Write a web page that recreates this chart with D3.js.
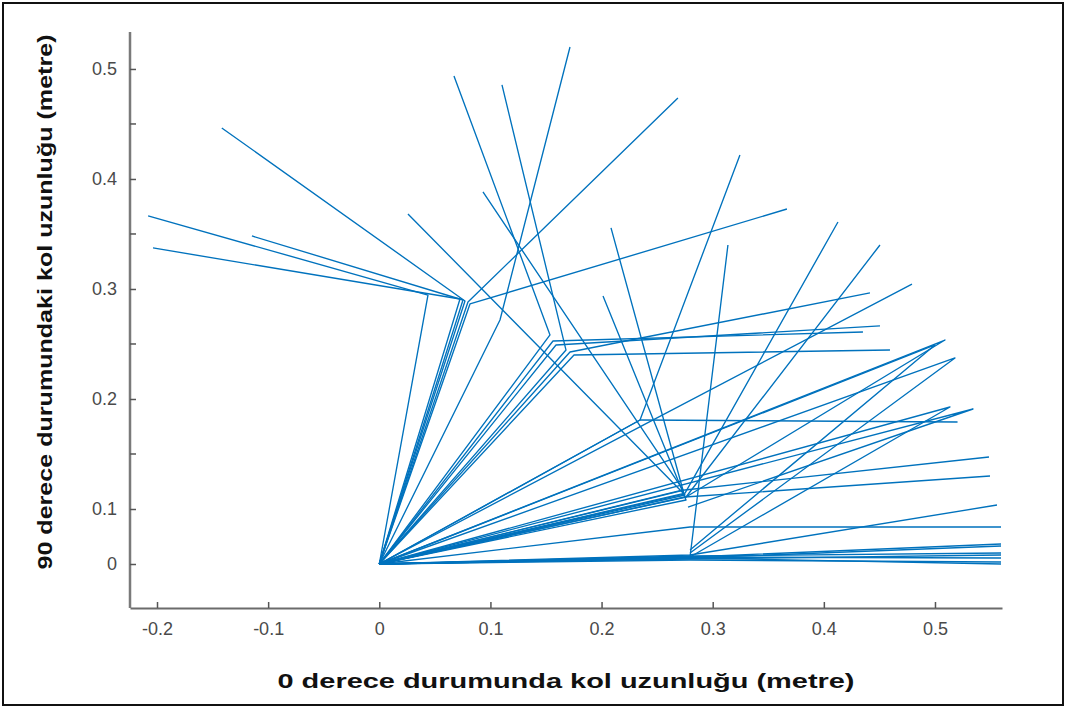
<!DOCTYPE html>
<html>
<head>
<meta charset="utf-8">
<script src="https://cdn.jsdelivr.net/npm/d3@7"></script>
<style>
  html, body { margin: 0; padding: 0; background: #fff; }
  svg { display: block; }
</style>
</head>
<body>
<svg id="chart" width="1066" height="708"></svg>
<script>
// Two-link arm configurations: every arm starts at the origin,
// goes to its elbow and then to its tip.
const elbowX = [
  0.0438, 0.0726, 0.0753, 0.0771, 0.0798, 0.0816, 0.1086,
  0.1536, 0.1563, 0.1590, 0.1680, 0.1716, 0.1752,
  0.2733, 0.2751, 0.2742, 0.2760, 0.2346, 0.2751, 0.2760, 0.2396, 0.2751, 0.2751, 0.2346,
  0.2796, 0.2796,
  0.5090, 0.5000, 0.5180, 0.5342, 0.5135,
  0.2796, 0.2796, 0.2796, 0.2796, 0.2796, 0.2796, 0.2796, 0.2796
];
const elbowY = [
  0.2945, 0.2909, 0.2900, 0.2891, 0.2882, 0.2864, 0.2718,
  0.2582, 0.2527, 0.2491, 0.2445, 0.2427, 0.2400,
  0.1173, 0.1127, 0.1136, 0.1082, 0.1809, 0.1145, 0.1109, 0.1773, 0.1173, 0.1109, 0.1809,
  0.0673, 0.0127,
  0.2536, 0.2491, 0.2373, 0.1909, 0.1927,
  0.0164, 0.0127, 0.0109, 0.0145, 0.0091, 0.0127, 0.0073, 0.0109
];
const tipX = [
  -0.2080, -0.2036, -0.1146, -0.1417, 0.2687, 0.3668, 0.1716,
  0.0672, 0.4352, 0.4505, 0.1104, 0.4415, 0.4595,
  0.0933, 0.0258, 0.2085, 0.2013, 0.3245, 0.4127, 0.4505, 0.4793, 0.5486, 0.5495, 0.5203,
  0.5594, 0.3137,
  0.2760, 0.2796, 0.2796, 0.2778, 0.2796,
  0.5558, 0.5594, 0.5594, 0.5594, 0.5594, 0.5594, 0.5594, 0.5594
];
const tipY = [
  0.3664, 0.3373, 0.3482, 0.4464, 0.4736, 0.3727, 0.5200,
  0.4936, 0.2609, 0.2664, 0.4855, 0.2964, 0.2445,
  0.3882, 0.3682, 0.3555, 0.2936, 0.4218, 0.3609, 0.3400, 0.3045, 0.1473, 0.1300, 0.1791,
  0.0673, 0.3400,
  0.1109, 0.0255, 0.0200, 0.1018, 0.0127,
  0.1036, 0.0364, 0.0327, 0.0200, 0.0164, 0.0109, 0.0036, 0.0000
];

const xTicks = [-0.2, -0.1, 0, 0.1, 0.2, 0.3, 0.4, 0.5];
const xTickLabels = ["-0.2", "-0.1", "0", "0.1", "0.2", "0.3", "0.4", "0.5"];
const yTicks = [0, 0.1, 0.2, 0.3, 0.4, 0.5];
const yTickLabels = ["0", "0.1", "0.2", "0.3", "0.4", "0.5"];
const yMinorTicks = [0.15, 0.25, 0.35, 0.45];

const xTitle = "0 derece durumunda kol uzunluğu (metre)";
const yTitle = "90 derece durumundaki kol uzunluğu (metre)";

const svg = d3.select("#chart");
const W = 1066, H = 708;
const plot = { left: 130, right: 1002, top: 32, bottom: 608 };

// outer frame
svg.append("rect")
  .attr("x", 3).attr("y", 3).attr("width", W - 6).attr("height", H - 6)
  .attr("fill", "none").attr("stroke", "#111").attr("stroke-width", 2);

const x = d3.scaleLinear().domain([-0.2243, 0.5603]).range([plot.left, plot.right]);
// the first step of the vertical axis (0 to 0.1) is drawn at half scale
const y = d3.scaleLinear().domain([-0.08, 0, 0.1, 0.5336]).range([plot.bottom, 564, 509, plot.top]);

// arms
const line = d3.line().x(d => x(d[0])).y(d => y(d[1]));
const arms = elbowX.map((ex, i) => [[0, 0], [ex, elbowY[i]], [tipX[i], tipY[i]]]);
svg.append("clipPath").attr("id", "plotClip")
  .append("rect").attr("x", plot.left).attr("y", plot.top)
  .attr("width", plot.right - plot.left).attr("height", plot.bottom - plot.top);
svg.append("g").attr("clip-path", "url(#plotClip)")
  .selectAll("path").data(arms).join("path")
  .attr("d", line)
  .attr("fill", "none")
  .attr("stroke", "#0072BD")
  .attr("stroke-width", 1.35)
  .attr("stroke-linejoin", "round");

// x axis
const xAxis = d3.axisBottom(x).tickValues(xTicks)
  .tickFormat((d, i) => xTickLabels[i]).tickSizeInner(-6).tickSizeOuter(0).tickPadding(14);
const gx = svg.append("g").attr("transform", `translate(0,${plot.bottom})`).call(xAxis);
gx.select(".domain").attr("stroke", "#6b6b6b").attr("stroke-width", 2);
gx.selectAll(".tick line").attr("stroke", "#555").attr("stroke-width", 1.5);
gx.selectAll(".tick text").attr("fill", "#4a4a4a")
  .style("font-family", "Liberation Sans, Arial, sans-serif").style("font-size", "18px");

// y axis
const yAxis = d3.axisLeft(y).tickValues(yTicks)
  .tickFormat((d, i) => yTickLabels[i]).tickSizeInner(-6).tickSizeOuter(0).tickPadding(13);
const gy = svg.append("g").attr("transform", `translate(${plot.left},0)`).call(yAxis);
gy.select(".domain").attr("stroke", "#7a7a7a").attr("stroke-width", 2.5)
  .attr("d", `M0,${plot.top}V${plot.bottom}`);
gy.selectAll(".tick line").attr("stroke", "#555").attr("stroke-width", 1.5);
gy.selectAll(".tick text").attr("fill", "#4a4a4a")
  .style("font-family", "Liberation Sans, Arial, sans-serif").style("font-size", "18px");
gy.selectAll(".minor").data(yMinorTicks).join("line")
  .attr("class", "minor")
  .attr("x1", 0).attr("x2", 6)
  .attr("y1", d => y(d)).attr("y2", d => y(d))
  .attr("stroke", "#555").attr("stroke-width", 1.5);

// axis titles
svg.append("text")
  .attr("x", 566).attr("y", 688)
  .attr("text-anchor", "middle")
  .attr("textLength", 577).attr("lengthAdjust", "spacingAndGlyphs")
  .style("font-family", "Liberation Sans, Arial, sans-serif")
  .style("font-weight", "bold").style("font-size", "21px").attr("fill", "#111")
  .text(xTitle);
svg.append("text")
  .attr("transform", "translate(52,302) rotate(-90)")
  .attr("text-anchor", "middle")
  .attr("textLength", 535).attr("lengthAdjust", "spacingAndGlyphs")
  .style("font-family", "Liberation Sans, Arial, sans-serif")
  .style("font-weight", "bold").style("font-size", "21px").attr("fill", "#111")
  .text(yTitle);
</script>
</body>
</html>
